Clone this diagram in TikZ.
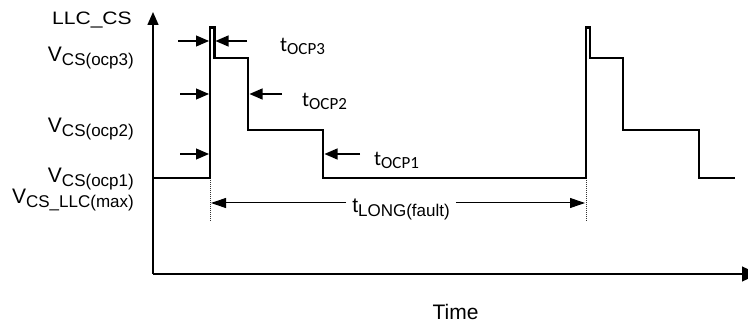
\documentclass[tikz,border=0pt]{standalone}
\usepackage{fontspec}
\setmainfont{Liberation Sans}
\newfontfamily\calib{Carlito}
\usetikzlibrary{arrows.meta}
\tikzset{
  wave/.style={line width=2.5pt, line join=miter},
  axisline/.style={line width=1.4pt},
  yhead/.style={-{Triangle[length=13pt,width=11pt]}},
  xhead/.style={-{Triangle[length=16pt,width=15pt]}},
  marker/.style={line width=1.1pt, -{Triangle[length=13pt,width=11pt]}},
  span/.style={line width=1pt, -{Triangle[length=15pt,width=10pt]}},
  guide/.style={line width=1pt, densely dotted, black!80},
  lbl/.style={inner sep=0pt, font=\fontsize{21}{24}\selectfont},
}
\newcommand{\sbig}[1]{\raisebox{-4pt}{\fontsize{17}{19}\selectfont #1}}
\newcommand{\tocp}[1]{{\calib\fontsize{21}{24}\selectfont t\raisebox{-3pt}{\fontsize{17}{19}\selectfont #1}}}
\begin{document}
\begin{tikzpicture}[x=1pt,y=-1pt]
\useasboundingbox (0,0) rectangle (748,323);
% axes
\coordinate (O) at (153,274);
\coordinate (ytop) at (153,12);
\coordinate (xend) at (758,274);
\draw[axisline, yhead] (O) -- (ytop);
\draw[axisline, xhead] (O) -- (xend);
% waveform
\draw[wave] (153,178) -- (210,178) -- (210,27.5) -- (214.5,27.5) -- (214.5,58) -- (248,58)
  -- (248,130) -- (323,130) -- (323,178) -- (586,178) -- (586,27.5) -- (590,27.5)
  -- (590,58) -- (623,58) -- (623,130) -- (699,130) -- (699,178) -- (735,178);
% dotted guides
\coordinate (gA1) at (210,180);
\coordinate (gA2) at (210,222);
\coordinate (gB1) at (586,180);
\coordinate (gB2) at (586,222);
\draw[guide] (gA1) -- (gA2);
\draw[guide] (gB1) -- (gB2);
% labels left
\coordinate (llcpos) at (132,25);
\node[lbl, anchor=base east, xscale=1.17, transform shape, font=\fontsize{18}{20}\selectfont] (llccs) at (llcpos) {LLC\_CS};
\node[lbl, anchor=base east] (v3) at (134,62) {V\sbig{CS(ocp3)}};
\node[lbl, anchor=base east] (v2) at (134,133) {V\sbig{CS(ocp2)}};
\node[lbl, anchor=base east] (v1) at (134,183) {V\sbig{CS(ocp1)}};
\node[lbl, anchor=base east] (vmax) at (134,204) {V\sbig{CS\_LLC(max)}};
% marker arrows
\coordinate (a1s) at (178,41);  \coordinate (a1e) at (209,41);
\coordinate (b1s) at (247,41);  \coordinate (b1e) at (215.5,41);
\coordinate (a2s) at (180,94);  \coordinate (a2e) at (209,94);
\coordinate (b2s) at (282,94);  \coordinate (b2e) at (249.5,94);
\coordinate (a3s) at (180,154); \coordinate (a3e) at (209,154);
\coordinate (b3s) at (360,154); \coordinate (b3e) at (324.5,154);
\draw[marker] (a1s) -- (a1e);
\draw[marker] (b1s) -- (b1e);
\draw[marker] (a2s) -- (a2e);
\draw[marker] (b2s) -- (b2e);
\draw[marker] (a3s) -- (a3e);
\draw[marker] (b3s) -- (b3e);
\node[lbl, anchor=base west] (t3) at (280,52) {\tocp{OCP3}};
\node[lbl, anchor=base west] (t2) at (302,107) {\tocp{OCP2}};
\node[lbl, anchor=base west] (t1) at (374,166) {\tocp{OCP1}};
% long fault span
\coordinate (sA) at (211,203);
\coordinate (sB) at (585,203);
\node[lbl, anchor=base, inner xsep=6pt] (tlong) at (401,213) {t\sbig{LONG(fault)}};
\draw[span] (tlong.west |- sA) -- (sA);
\draw[span] (tlong.east |- sB) -- (sB);
% time label
\node[lbl, anchor=base] (time) at (455.5,320) {Time};
\end{tikzpicture}
\end{document}
